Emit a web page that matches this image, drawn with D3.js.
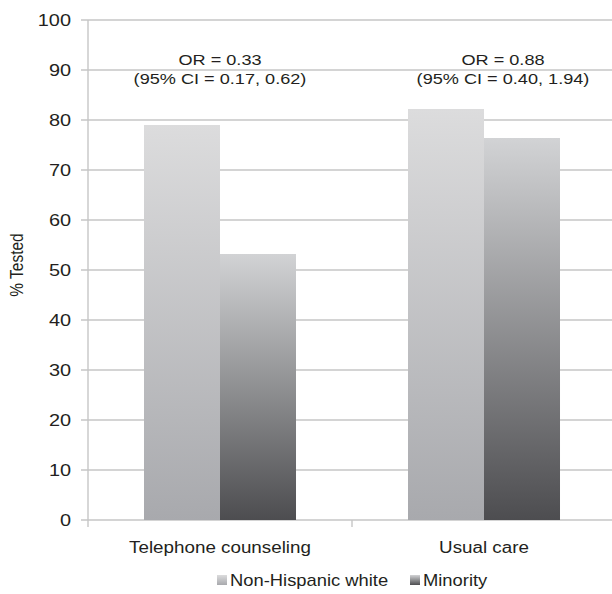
<!DOCTYPE html>
<html><head><meta charset="utf-8">
<script src="https://cdn.jsdelivr.net/npm/d3@7"></script>
<style>body{margin:0;background:#fff}svg{display:block}text{font-family:"Liberation Sans",Arial,Helvetica,sans-serif;fill:#231f20}</style>
</head><body><svg id="c" width="612" height="594"></svg>
<script>
const categories = ["Telephone counseling", "Usual care"];
const seriesNames = ["Non-Hispanic white", "Minority"];
const nonHispanicWhite = [79.0, 82.2];
const minority = [53.2, 76.4];
const annotLine1 = ["OR = 0.33", "OR = 0.88"];
const annotLine2 = ["(95% CI = 0.17, 0.62)", "(95% CI = 0.40, 1.94)"];
const yTicks = [0,10,20,30,40,50,60,70,80,90,100];
const yLabel = "% Tested";

(function(){
const SX = 1.17; // horizontal text stretch of the original
const svg = d3.select("#c");
const pL = 88, pR = 616, pT = 20, pB = 520;

const x0 = d3.scaleBand().domain(categories).range([pL, pR]).paddingInner(0).paddingOuter(0);
const bw = x0.bandwidth();
const x1 = d3.scaleBand().domain(seriesNames).range([bw*0.2121, bw*0.7879]).padding(0);
const y = d3.scaleLinear().domain([0,100]).range([pB, pT]);

const defs = svg.append("defs");
function grad(id, c0, c1){
  const g = defs.append("linearGradient").attr("id", id).attr("x1",0).attr("y1",0).attr("x2",0).attr("y2",1);
  g.append("stop").attr("offset","0%").attr("stop-color", c0);
  g.append("stop").attr("offset","100%").attr("stop-color", c1);
}
grad("gW", "#dcdcdd", "#a8a9ad");
grad("gM", "#d2d3d5", "#4d4d50");
const fills = {"Non-Hispanic white":"url(#gW)", "Minority":"url(#gM)"};

const gridC = "#c6c6c6";
svg.append("g").selectAll("line").data(yTicks.filter(d=>d>0)).join("line")
  .attr("x1", pL-7).attr("x2", pR).attr("y1", d=>y(d)).attr("y2", d=>y(d))
  .attr("stroke", gridC).attr("stroke-width", 1.4);
svg.append("line").attr("x1", pL-7).attr("x2", pR).attr("y1", y(0)).attr("y2", y(0)).attr("stroke", gridC).attr("stroke-width", 1.4);
svg.append("line").attr("x1", pL).attr("x2", pL).attr("y1", y(100)).attr("y2", y(0)+7).attr("stroke", gridC).attr("stroke-width", 1.4);
svg.append("g").selectAll("line").data(categories.slice(1)).join("line")
  .attr("x1", d=>x0(d)).attr("x2", d=>x0(d)).attr("y1", y(0)).attr("y2", y(0)+7)
  .attr("stroke", gridC).attr("stroke-width", 1.4);

const rows = categories.map((c,i)=>({cat:c, vals:[{s:seriesNames[0], v:nonHispanicWhite[i]},{s:seriesNames[1], v:minority[i]}]}));
const grp = svg.append("g").selectAll("g").data(rows).join("g").attr("transform", d=>`translate(${x0(d.cat)},0)`);
grp.selectAll("rect").data(d=>d.vals).join("rect")
  .attr("x", d=>x1(d.s)).attr("width", x1.bandwidth())
  .attr("y", d=>y(d.v)).attr("height", d=>y(0)-y(d.v))
  .attr("fill", d=>fills[d.s]);

function stext(parent, x, yy, txt, size, anchor, rot, sx){
  return parent.append("text")
    .attr("transform", `translate(${x},${yy}) scale(${sx||SX},1)` + (rot?` rotate(${rot})`:""))
    .attr("text-anchor", anchor).attr("font-size", size).text(txt);
}
const tl = svg.append("g");
yTicks.forEach(t=> stext(tl, pL-17, y(t)+5.5, t, 17, "end"));
stext(svg, 23, 265, yLabel, 15.5, "middle", -90);
categories.forEach(c=> stext(svg, x0(c)+bw/2, 553, c, 15.8, "middle", 0, 1.19));
const annOff = [0, 19];
categories.forEach((c,i)=>{
  stext(svg, x0(c)+bw/2+annOff[i], 65, annotLine1[i], 15.5, "middle");
  stext(svg, x0(c)+bw/2+annOff[i], 84, annotLine2[i], 15.5, "middle");
});
const legX = [217, 410];
seriesNames.forEach((s,i)=>{
  svg.append("rect").attr("x", legX[i]).attr("y", 575).attr("width", 10).attr("height", 10).attr("fill", fills[s]);
  stext(svg, legX[i]+13, 586, s, 15.7, "start");
});
})();
</script></body></html>
